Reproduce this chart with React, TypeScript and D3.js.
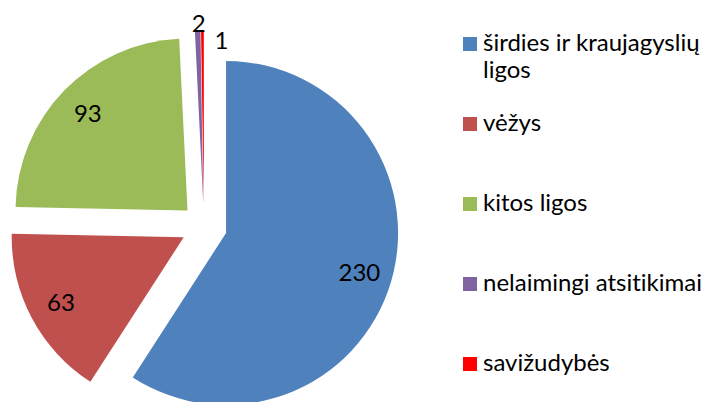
import React from "react";
import * as d3 from "d3";

const categories = [
  "širdies ir kraujagyslių ligos",
  "vėžys",
  "kitos ligos",
  "nelaimingi atsitikimai",
  "savižudybės",
];
const values = [230, 63, 93, 2, 1];
const colors = ["#4F81BD", "#C0504D", "#9BBB59", "#8064A2", "#FF0000"];

const W = 714;
const H = 402;
const FONT = "Lato, 'Open Sans', sans-serif";
const FS = 24;

function measure(text: string): number {
  if (typeof document === "undefined") return text.length * FS * 0.5;
  const c = document.createElement("canvas").getContext("2d");
  if (!c) return text.length * FS * 0.5;
  c.font = `${FS}px Lato`;
  return c.measureText(text).width;
}

function wrap(text: string, maxW: number): string[] {
  const words = text.split(" ");
  const lines: string[] = [];
  let cur = "";
  for (const w of words) {
    const t = cur ? cur + " " + w : w;
    if (cur && measure(t) > maxW) {
      lines.push(cur);
      cur = w;
    } else cur = t;
  }
  if (cur) lines.push(cur);
  return lines;
}

export default function App() {
  const cx = 204;
  const cy = 226.5;
  const R = 172;
  const explode = 23;
  const labelR = 139;

  const pie = d3.pie<number>().sort(null).value((d) => d)(values);
  const arc = d3.arc<d3.PieArcDatum<number>>().innerRadius(0).outerRadius(R);
  const total = d3.sum(values);

  type Lab = { x: number; y: number; anchor: string; text: string };
  const labels: Lab[] = [];
  let prevOutside: Lab | null = null;
  pie.forEach((p) => {
    const mid = (p.startAngle + p.endAngle) / 2;
    const dx = Math.sin(mid);
    const dy = -Math.cos(mid);
    const ax = cx + explode * dx;
    const ay = cy + explode * dy;
    const text = String(p.data);
    if (p.data / total > 0.02) {
      labels.push({ x: ax + labelR * dx, y: ay + labelR * dy + FS * 0.36, anchor: "middle", text });
    } else {
      const tx = ax + R * dx;
      const ty = ay + R * dy;
      let lab: Lab = { x: tx + 1, y: ty, anchor: "middle", text };
      if (prevOutside && Math.abs(prevOutside.x - lab.x) < measure(text) + 4) {
        lab = { x: tx + 12, y: ty + 17, anchor: "start", text };
      }
      labels.push(lab);
      prevOutside = lab;
    }
  });

  const legX = 463;
  const legTextX = 483;
  const legBase0 = 51;
  const legStep = 80;
  const sq = 14;

  return (
    <svg
      width={W}
      height={H}
      style={{ position: "absolute", left: 0, top: 0, background: "#fff", fontVariantLigatures: "none" }}
      fontFamily={FONT}
    >
      <rect x={0} y={0} width={W} height={H} fill="#fff" />
      {pie.map((p, i) => {
        const mid = (p.startAngle + p.endAngle) / 2;
        const ox = cx + explode * Math.sin(mid);
        const oy = cy - explode * Math.cos(mid);
        return (
          <path
            key={i}
            d={arc(p) || ""}
            transform={`translate(${ox},${oy})`}
            fill={colors[i]}
          />
        );
      })}
      {labels.map((l, i) => (
        <text key={i} x={l.x} y={l.y} textAnchor={l.anchor} fontSize={FS} fill="#000">
          {l.text}
        </text>
      ))}
      {categories.map((c, i) => {
        const base = legBase0 + i * legStep;
        const lines = wrap(c, 228);
        return (
          <g key={i}>
            <rect x={legX} y={base - sq} width={sq} height={sq} fill={colors[i]} />
            <text x={legTextX} y={base} fontSize={FS} fill="#000">
              {lines.map((ln, j) => (
                <tspan key={j} x={legTextX} dy={j === 0 ? 0 : 27}>
                  {ln}
                </tspan>
              ))}
            </text>
          </g>
        );
      })}
    </svg>
  );
}
